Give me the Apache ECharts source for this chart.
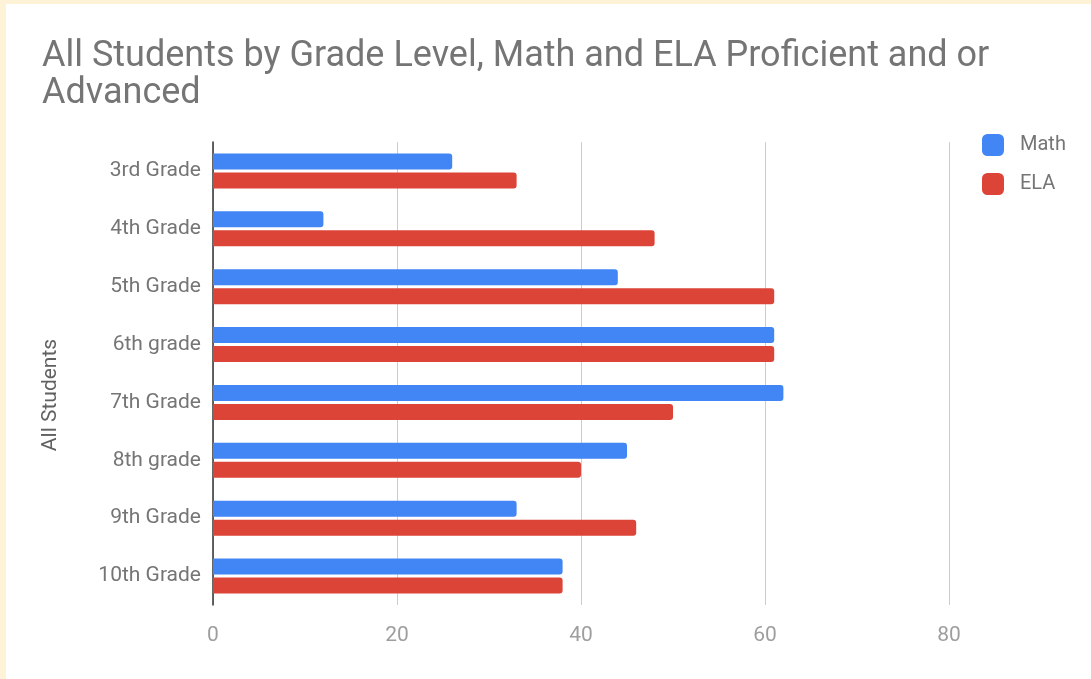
<!DOCTYPE html>
<html>
<head>
<meta charset="utf-8">
<script src="https://cdn.jsdelivr.net/npm/echarts@6/dist/echarts.min.js"></script>
<style>
html,body{margin:0;padding:0;background:#FEF3D7;width:1091px;height:679px;overflow:hidden;}
#c{position:absolute;left:6px;top:4px;width:1085px;height:675px;background:#fff;}
</style>
</head>
<body>
<div id="c"></div>
<script>
const categories = ['3rd Grade','4th Grade','5th Grade','6th grade','7th Grade','8th grade','9th Grade','10th Grade'];
const mathValues = [26, 12, 44, 61, 62, 45, 33, 38];
const elaValues  = [33, 48, 61, 61, 50, 40, 46, 38];
const xTicks = [0, 20, 40, 60, 80];

const chart = echarts.init(document.getElementById('c'));
const font = 'Roboto, sans-serif';
chart.setOption({
  animation: false,
  title: {
    text: 'All Students by Grade Level, Math and ELA Proficient and or\nAdvanced',
    left: 31, top: 29,
    textStyle: {fontFamily: font, fontSize: 36, fontWeight: 'normal', color: '#757575', lineHeight: 37}
  },
  legend: {
    orient: 'vertical', left: 971, top: 125,
    itemWidth: 22, itemHeight: 22, itemGap: 17,
    icon: 'roundRect',
    textStyle: {fontFamily: font, fontSize: 20, color: '#757575', padding: [0,0,0,11]},
    data: ['Math','ELA']
  },
  grid: {left: 207, top: 138, width: 736, height: 463, containLabel: false},
  xAxis: {
    type: 'value', min: 0, max: 80, interval: 20,
    axisLine: {show: false}, axisTick: {show: false},
    splitLine: {lineStyle: {color: '#CCCCCC', width: 1}},
    axisLabel: {fontFamily: font, fontSize: 21, color: '#9E9E9E', margin: 20,
      formatter: v => xTicks.includes(v) ? String(v) : ''}
  },
  yAxis: {
    type: 'category', data: categories, inverse: true,
    name: 'All Students', nameLocation: 'middle', nameGap: 152, nameRotate: 90,
    nameTextStyle: {fontFamily: font, fontSize: 21, color: '#616161', padding: [0, 43, 0, 0]},
    axisLine: {lineStyle: {color: '#333333', width: 1.5}},
    axisTick: {show: false},
    axisLabel: {fontFamily: font, fontSize: 21, color: '#757575', margin: 12}
  },
  series: [
    {name: 'Math', type: 'bar', data: mathValues, barWidth: 16, barGap: '19%',
     itemStyle: {color: '#4285F4', borderRadius: [0,3,3,0]}},
    {name: 'ELA', type: 'bar', data: elaValues, barWidth: 16,
     itemStyle: {color: '#DB4437', borderRadius: [0,3,3,0]}}
  ]
});
</script>
</body>
</html>
